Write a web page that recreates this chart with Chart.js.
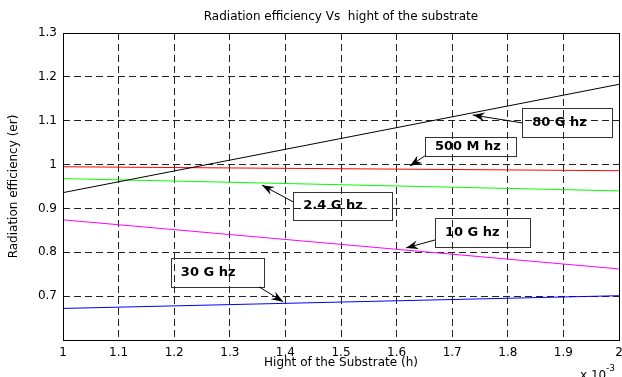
<!DOCTYPE html>
<html lang="en">
<head>
    <meta charset="UTF-8">
    <title>Radiation efficiency Vs hight of the substrate</title>
    <script src="https://cdn.jsdelivr.net/npm/chart.js"></script>
    <style>
        body {
            margin: 0;
            padding: 0;
            background-color: #fff;
        }
        canvas {
            display: block;
        }
    </style>
</head>
<body>
    <canvas id="effChart" width="622" height="377"></canvas>

    <script>
        // Substrate height (x 10^-3)
        const heights = [1, 2];

        // Radiation efficiency per frequency
        const eff80G  = [0.936, 1.183];
        const eff500M = [0.995, 0.986];
        const eff24G  = [0.968, 0.940];
        const eff10G  = [0.874, 0.762];
        const eff30G  = [0.672, 0.701];

        // Axis limits [min, max, step]
        const xRange = [1, 2, 0.1];
        const yRange = [0.6, 1.3, 0.1];

        // Text boxes with arrows (data coordinates)
        const notes = [
            { text: '80 G hz',  box: [1.826, 1.129, 1.987, 1.063], arrow: [1.826, 1.095, 1.737, 1.113] },
            { text: '500 M hz', box: [1.651, 1.063, 1.815, 1.020], arrow: [1.651, 1.020, 1.624, 0.997] },
            { text: '2.4 G hz', box: [1.414, 0.937, 1.592, 0.874], arrow: [1.414, 0.915, 1.358, 0.953] },
            { text: '10 G hz',  box: [1.669, 0.878, 1.840, 0.812], arrow: [1.669, 0.828, 1.617, 0.810] },
            { text: '30 G hz',  box: [1.194, 0.787, 1.362, 0.721], arrow: [1.353, 0.721, 1.396, 0.687] }
        ];

        const FONT = "'DejaVu Sans', sans-serif";

        function toPoints(ys) {
            return heights.map((h, i) => ({ x: h, y: ys[i] }));
        }

        function series(label, ys, color) {
            return {
                label: label,
                data: toPoints(ys),
                borderColor: color,
                backgroundColor: color,
                borderWidth: 1,
                pointRadius: 0,
                tension: 0
            };
        }

        function tickText(v) {
            return Number(v.toFixed(1)).toString();
        }

        // draw arrow with a MATLAB style head
        function drawArrow(ctx, x1, y1, x2, y2) {
            const ang = Math.atan2(y2 - y1, x2 - x1);
            ctx.beginPath();
            ctx.moveTo(x1, y1);
            ctx.lineTo(x2, y2);
            ctx.stroke();
            const len = 12, half = 4.5, notch = 8;
            const c = Math.cos(ang), s = Math.sin(ang);
            const pt = (a, b) => [x2 - a * c - b * s, y2 - a * s + b * c];
            const p1 = pt(len, half), p2 = pt(notch, 0), p3 = pt(len, -half);
            ctx.beginPath();
            ctx.moveTo(x2, y2);
            ctx.lineTo(p1[0], p1[1]);
            ctx.lineTo(p2[0], p2[1]);
            ctx.lineTo(p3[0], p3[1]);
            ctx.closePath();
            ctx.fill();
        }

        const extras = {
            id: 'extras',
            afterDatasetsDraw(chart) {
                const ctx = chart.ctx;
                const xs = chart.scales.x, ys = chart.scales.y;
                const area = chart.chartArea;

                // annotations
                ctx.save();
                notes.forEach(n => {
                    const bx1 = xs.getPixelForValue(n.box[0]);
                    const by1 = ys.getPixelForValue(n.box[1]);
                    const bx2 = xs.getPixelForValue(n.box[2]);
                    const by2 = ys.getPixelForValue(n.box[3]);
                    ctx.strokeStyle = '#333';
                    ctx.lineWidth = 1;
                    ctx.strokeRect(Math.round(bx1) + 0.5, Math.round(by1) + 0.5,
                                   Math.round(bx2 - bx1), Math.round(by2 - by1));
                    ctx.fillStyle = '#000';
                    ctx.font = 'bold 13px ' + FONT;
                    ctx.textAlign = 'left';
                    ctx.textBaseline = 'middle';
                    ctx.fillText(n.text, bx1 + 10, (by1 + by2) / 2);

                    ctx.strokeStyle = '#000';
                    drawArrow(ctx,
                        xs.getPixelForValue(n.arrow[0]), ys.getPixelForValue(n.arrow[1]),
                        xs.getPixelForValue(n.arrow[2]), ys.getPixelForValue(n.arrow[3]));
                });

                // axes box
                ctx.strokeStyle = '#000';
                ctx.lineWidth = 1;
                ctx.strokeRect(Math.round(area.left) + 0.5, Math.round(area.top) + 0.5,
                               Math.round(area.right - area.left), Math.round(area.bottom - area.top));

                // title
                ctx.fillStyle = '#000';
                ctx.font = '12px ' + FONT;
                ctx.textAlign = 'center';
                ctx.textBaseline = 'middle';
                ctx.fillText('Radiation efficiency Vs  hight of the substrate', (area.left + area.right) / 2, 17);

                // exponent label
                ctx.textAlign = 'left';
                ctx.textBaseline = 'top';
                ctx.font = '12px ' + FONT;
                ctx.fillText('x 10', 580, 370);
                ctx.font = '9px ' + FONT;
                ctx.fillText('-3', 606, 364);
                ctx.restore();
            }
        };

        const ctx = document.getElementById('effChart').getContext('2d');
        const effChart = new Chart(ctx, {
            type: 'line',
            data: {
                datasets: [
                    series('80 G hz', eff80G, '#000000'),
                    series('500 M hz', eff500M, '#ff0000'),
                    series('2.4 G hz', eff24G, '#00ff00'),
                    series('10 G hz', eff10G, '#ff00ff'),
                    series('30 G hz', eff30G, '#0000ff')
                ]
            },
            options: {
                responsive: false,
                animation: false,
                layout: {
                    padding: { top: 33, right: 3, left: 0, bottom: 0 }
                },
                plugins: {
                    legend: { display: false },
                    tooltip: { enabled: false }
                },
                scales: {
                    x: {
                        type: 'linear',
                        min: xRange[0],
                        max: xRange[1],
                        afterFit: s => {
                            s.height = 37;
                            s.paddingLeft = 0;
                            s.paddingRight = 0;
                        },
                        ticks: {
                            stepSize: xRange[2],
                            color: '#000',
                            padding: 6,
                            maxRotation: 0,
                            font: { family: FONT, size: 12 },
                            callback: v => tickText(v)
                        },
                        grid: {
                            color: '#222',
                            lineWidth: 1,
                            drawTicks: false
                        },
                        border: { display: false, dash: [7, 4] },
                        title: {
                            display: true,
                            text: 'Hight of the Substrate (h)',
                            color: '#000',
                            font: { family: FONT, size: 12 },
                            padding: { top: 2, bottom: 7 }
                        }
                    },
                    y: {
                        type: 'linear',
                        min: yRange[0],
                        max: yRange[1],
                        afterFit: s => { s.width = 63; },
                        ticks: {
                            stepSize: yRange[2],
                            color: '#000',
                            padding: 6,
                            font: { family: FONT, size: 12 },
                            callback: v => (Math.abs(v - yRange[0]) < 1e-6 ? '' : tickText(v))
                        },
                        grid: {
                            color: '#222',
                            lineWidth: 1,
                            drawTicks: false
                        },
                        border: { display: false, dash: [7, 4] },
                        title: {
                            display: true,
                            text: 'Radiation efficiency (er)',
                            color: '#000',
                            font: { family: FONT, size: 12 },
                            padding: { top: 7, bottom: 2 }
                        }
                    }
                }
            },
            plugins: [extras]
        });
    </script>
</body>
</html>
